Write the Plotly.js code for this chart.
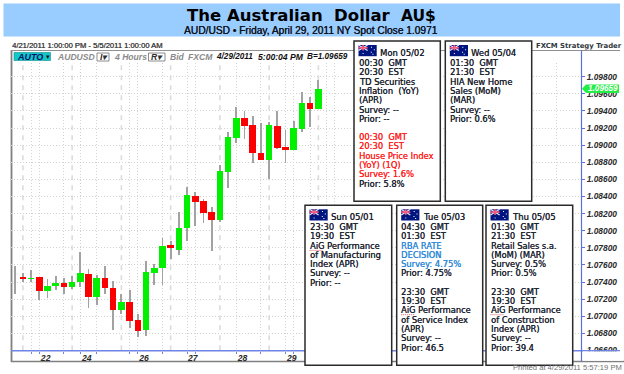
<!DOCTYPE html>
<html><head><meta charset="utf-8">
<script src="https://cdn.plot.ly/plotly-3.0.1.min.js"></script>
<style>html,body{margin:0;padding:0;background:#fff;overflow:hidden}#c{width:624px;height:374px}</style>
</head><body><div id="c"></div>
<script>
// ---- data ----
const candleIndex = [0,1,2,3,4,5,6,7,8,9,10,11,12,13,14,15,16,17,18,19,20,21,22,23,24,25,26,27,28,29,30,31,32,33,34,35,36,37];
const candleOpen  = [1.07449,1.07457,1.07438,1.07457,1.07298,1.07348,1.07383,1.07337,1.07395,1.07496,1.07220,1.07453,1.07329,1.07069,1.07170,1.06957,1.06844,1.07508,1.07566,1.07829,1.07779,1.08027,1.08411,1.08345,1.08214,1.08124,1.08687,1.09086,1.09323,1.09234,1.08912,1.08822,1.09226,1.08974,1.08947,1.09191,1.09497,1.09428];
const candleClose = [1.07442,1.07434,1.07453,1.07298,1.07356,1.07383,1.07337,1.07403,1.07504,1.07220,1.07453,1.07325,1.07073,1.07162,1.06945,1.06833,1.07515,1.07566,1.07826,1.07798,1.08035,1.08415,1.08341,1.08206,1.08128,1.08695,1.09090,1.09323,1.09226,1.08908,1.08822,1.09238,1.08962,1.08947,1.09195,1.09494,1.09428,1.09655];
const candleHigh  = [1.07593,1.07511,1.07542,1.07457,1.07438,1.07473,1.07445,1.07465,1.07748,1.07550,1.07484,1.07593,1.07407,1.07263,1.07310,1.07030,1.07647,1.07608,1.07911,1.07884,1.08214,1.08512,1.08454,1.08376,1.08279,1.08772,1.09148,1.09451,1.09397,1.09346,1.09261,1.09276,1.09397,1.09172,1.09284,1.09625,1.09560,1.09761];
const candleLow   = [1.07263,1.07403,1.07395,1.07193,1.07217,1.07310,1.07255,1.07317,1.07341,1.07100,1.07127,1.07255,1.06836,1.07030,1.06860,1.06759,1.06774,1.07360,1.07368,1.07667,1.07717,1.07884,1.08054,1.08085,1.07767,1.08105,1.08497,1.09028,1.09067,1.08795,1.08822,1.08609,1.08958,1.08795,1.08947,1.09152,1.09210,1.09428];
const lastPrice = 1.09659;
const priceTicks = [1.098,1.096,1.094,1.092,1.09,1.088,1.086,1.084,1.082,1.08,1.078,1.076,1.074,1.072,1.07,1.068,1.066];
const priceLabels = ["1.09800","1.09600","1.09400","1.09200","1.09000","1.08800","1.08600","1.08400","1.08200","1.08000","1.07800","1.07600","1.07400","1.07200","1.07000","1.06800","1.06600"];
const dayPositions = [3.77,8.77,15.77,21.7,27.75,33.77];
const dayLabels = ["22","24","26","27","28","29"];
const dottedGrid = [2,3,6,8,10,14,15,18,21,22,27,30,33,34,36,38,39,66];
const dashedGrid = [1,7,13,19,25,31,37];

const monHead = "Mon 05/02", wedHead = "Wed 05/04", sunHead = "Sun 05/01", tueHead = "Tue 05/03", thuHead = "Thu 05/05";
const monLines = ["00:30  GMT","20:30  EST","TD Securities","Inflation  (YoY)","(APR)","Survey: --","Prior: --","00:30  GMT","20:30  EST","House Price Index","(YoY) (1Q)","Survey: 1.6%","Prior: 5.8%"];
const wedLines = ["01:30  GMT","21:30  EST","HIA New Home","Sales (MoM)","(MAR)","Survey: --","Prior: 0.6%"];
const sunLines = ["23:30  GMT","19:30  EST","AiG Performance","of Manufacturing","Index (APR)","Survey: --","Prior: --"];
const tueLines = ["04:30  GMT","01:30  EST","RBA RATE","DECISION","Survey: 4.75%","Prior: 4.75%","23:30  GMT","19:30  EST","AiG Performance","of Service Index","(APR)","Survey: --","Prior: 46.5"];
const thuLines = ["01:30  GMT","21:30  EST","Retail Sales s.a.","(MoM) (MAR)","Survey: 0.5%","Prior: 0.5%","23:30  GMT","19:30  EST","AiG Performance","of Construction","Index (APR)","Survey: --","Prior: 39.4"];

// ---- page geometry ----
const L=11,R=581,T=63,B=351;
const xp=x=>(x-L)/(R-L), yp=y=>(B-y)/(B-T);
const shapes=[], annos=[];
const BODY="DejaVu Sans", ARIAL="Liberation Sans";
function rect(x0,y0,x1,y1,fill,line,lw,layer){shapes.push({type:'rect',xref:'paper',yref:'paper',x0:xp(x0),x1:xp(x1),y0:yp(y0),y1:yp(y1),fillcolor:fill,line:{color:line||fill,width:lw===undefined?0:lw},layer:layer||'above'});}
function seg(x0,y0,x1,y1,col,w,dash,layer){shapes.push({type:'line',xref:'paper',yref:'paper',x0:xp(x0),x1:xp(x1),y0:yp(y0),y1:yp(y1),line:{color:col,width:w,dash:dash||'solid'},layer:layer||'above'});}
function txt(x,y,s,o){o=o||{};const c=o.color||'#1c2430';annos.push({xref:'paper',yref:'paper',x:xp(x),y:yp(y),xanchor:o.anchor||'left',yanchor:'middle',showarrow:false,borderpad:0,text:s.replace(/  /g,'\u00a0\u00a0'),
  font:{family:o.family||BODY,size:o.size||8,color:c,style:o.style||'normal',weight:o.weight||'normal',shadow:o.bold?('0.3px 0 0 '+c):'none'}});}

// banner
rect(3.5,3.5,620,36.5,'#99ccff',null,0,'below');
txt(186,15.3,'The Australian  Dollar',{size:16.5,weight:'bold',color:'#000'});
txt(399.5,16,'AU$',{size:15.5,weight:'bold',color:'#000'});
txt(311,30,'AUD/USD \u2022 Friday, April 29, 2011 NY Spot Close 1.0971',{anchor:'center',family:ARIAL,size:10.2,color:'#10141c',bold:true});
// header strip
txt(10.5,45.5,'4/21/2011 1:00:00 PM - 5/5/2011 1:00:00 AM',{family:ARIAL,size:7.6,color:'#404040',bold:true});
txt(535,45.5,'FXCM Strategy Trader',{size:6.9,weight:'bold',color:'#303840'});
txt(512,367,'Printed at 4/29/2011 5:57:19 PM',{family:ARIAL,size:7.6,color:'#707070'});
// frame
seg(11.5,50,11.5,362,'#808080',1.8,null,'below');
seg(11,50.5,620,50.5,'#909090',1,null,'below');
seg(11,361.5,624,361.5,'#808080',1.4,null,'below');
// toolbar
rect(14,52.5,42,60.5,'#12c8c8','#0a8f8f',0.6);
rect(42.5,52.5,50.5,60.5,'#12c8c8','#0a8f8f',0.6);
rect(97,53,109,61,'#fff','#707070',0.8);
rect(148.5,53,165,61,'#fff','#707070',0.8);
const bi={family:ARIAL,size:8.6,style:'italic',weight:'bold'};
txt(16,56.7,'AUTO',{...bi,size:9,color:'#00106a'});
txt(44.5,56.7,'\u25be',{size:7,color:'#101010'});
txt(56,56.7,'AUDUSD',{...bi,color:'#8a8a8a'});
txt(99,56.7,'I\u25be',{...bi,color:'#303030'});
txt(113,56.7,'4 Hours',{...bi,color:'#8a8a8a'});
txt(150,56.7,'R\u25be',{...bi,color:'#303030'});
txt(169,56.7,'Bid',{...bi,color:'#8a8a8a'});
txt(186.5,56.7,'FXCM',{...bi,color:'#8a8a8a'});
txt(215,56.7,'4/29/2011',{...bi,size:8.2,color:'#101010'});
txt(257,56.7,'5:00:04 PM',{...bi,color:'#101010'});
txt(306.5,56.7,'B=1.09659',{...bi,size:8.2,color:'#101010'});
// axis lines
seg(11,350.7,620,350.7,'#6f84e6',1.6);
seg(581.5,50.5,581.5,361,'#5a70e0',1.2);
// clip the lowest price label, as in the picture
rect(583,351.6,623,360.8,'#fff');
// dashed verticals
dashedGrid.forEach(v=>shapes.push({type:'line',xref:'x',yref:'paper',x0:v,x1:v,y0:0.003,y1:1,line:{color:'#dcdcdc',width:1.6,dash:'5px,5px'},layer:'below'}));
// price tag
const tagY=76.7+(1.098-lastPrice)*8553;
shapes.push({type:'path',xref:'paper',yref:'paper',layer:'above',fillcolor:'#22ee44',line:{width:0},
  path:`M${xp(582)},${yp(tagY)} L${xp(586)},${yp(tagY-4.3)} L${xp(619)},${yp(tagY-4.3)} L${xp(619)},${yp(tagY+4.3)} L${xp(586)},${yp(tagY+4.3)} Z`});
annos.push({xref:'paper',yref:'y',x:xp(587),y:lastPrice,xanchor:'left',yanchor:'middle',showarrow:false,borderpad:0,text:lastPrice.toFixed(5),font:{family:ARIAL,size:8.2,color:'#fff',style:'italic',weight:'bold'}});

// panels
function flag(x,y){
  const W=18.2,H=11.2;
  rect(x,y,x+W,y+H,'#00157f');
  seg(x,y,x+W/2,y+H/2,'#e8e8ff',1.2);seg(x,y+H/2,x+W/2,y,'#e8e8ff',1.2);
  seg(x+W/4,y,x+W/4,y+H/2,'#ff5a7a',1.6);seg(x,y+H/4,x+W/2,y+H/4,'#ff5a7a',1.6);
  [[4.6,8.6],[13,2.2],[15.8,4.8],[12.8,7.2],[14.4,9.2]].forEach(p=>rect(x+p[0]-.5,y+p[1]-.5,x+p[0]+.5,y+p[1]+.5,'#fff'));
}
function panel(x0,y0,x1,y1,head,lines,ys,colors){
  rect(x0,y0,x1,y1,'#fff','#2a2a2a',1.5);
  const lx=x0+4.5;
  flag(lx,y0+4);
  txt(lx+20.5,y0+11.7,head,{size:8.4,color:'#1c2430',bold:true});
  lines.forEach((s,i)=>{
    txt(lx-0.8,ys[i],s,{size:8.3,color:colors[i]||'#1c2430',bold:true});
    if(s.startsWith('AiG')) seg(lx,ys[i]+4.4,lx+13,ys[i]+4.4,'#e03030',0.8,'1px,1px');
  });
}
const RED='#ff1f1f',BLUE='#2f8ad8';
const yA=[63,72,82,91,100,109.7,118.7,137,146,156,165,174,183.7];
const yB=[227,236,246,255,264,273.3,291.7,301,310.3,320,329,338,347.7];
const yS=[227,236,246,255,264,273.3,282.7];
panel(354,41,440.3,201.3,monHead,monLines,yA,{7:RED,8:RED,9:RED,10:RED,11:RED});
panel(445.3,41,531.7,201.3,wedHead,wedLines,yA,{});
panel(305,205.3,391.7,365.3,sunHead,sunLines,yS,{});
panel(396.7,205.3,482.7,365.3,tueHead,tueLines,yB,{2:BLUE,3:BLUE,4:BLUE});
panel(486,205.3,572.7,365.3,thuHead,thuLines,yB,{});

const GREEN='#00f000',REDC='#fa0000';
const wick={type:'bar',x:candleIndex,base:candleLow,y:candleHigh.map((h,i)=>h-candleLow[i]),width:0.22,marker:{color:'#a2a2a2',line:{width:0}},hoverinfo:'skip',showlegend:false};
const body={type:'bar',x:candleIndex,base:candleOpen,y:candleClose.map((c,i)=>c-candleOpen[i]),width:0.8,
  marker:{color:candleClose.map((c,i)=>c>=candleOpen[i]?GREEN:REDC),line:{width:0}},showlegend:false};

Plotly.newPlot('c',[wick,body],{
  width:624,height:374,margin:{l:L,r:624-R,t:T,b:374-B,pad:0},
  paper_bgcolor:'#fff',plot_bgcolor:'#fff',barmode:'overlay',bargap:0,showlegend:false,
  xaxis:{range:[-0.45,69],tickmode:'array',tickvals:dayPositions,ticktext:dayLabels,showgrid:false,zeroline:false,ticklen:0,showline:false,
    tickfont:{family:ARIAL,size:8.6,style:'italic',weight:'bold',color:'#2a2a2a'},tickangle:0,
    minor:{tickmode:'array',tickvals:dottedGrid,showgrid:true,gridcolor:'#d2d2d2',griddash:'1px,2px',gridwidth:1,ticks:'outside',ticklen:2,tickcolor:'#6f84e6',tickwidth:1}},
  yaxis:{side:'right',range:[1.06594,1.0996],tickmode:'array',tickvals:priceTicks,ticktext:priceLabels,showgrid:true,gridcolor:'#d2d2d2',griddash:'1px,2px',gridwidth:1,zeroline:false,
    ticks:'outside',ticklen:3,tickcolor:'#5a70e0',showline:false,tickfont:{family:ARIAL,size:8.4,style:'italic',weight:'bold',color:'#2a2a2a'}},
  shapes,annotations:annos
},{displayModeBar:false,staticPlot:true});
</script></body></html>
